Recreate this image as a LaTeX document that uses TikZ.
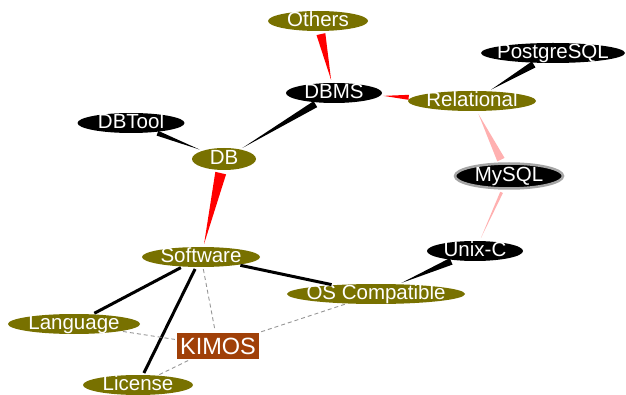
\documentclass[tikz,border=0pt]{standalone}
\usepackage{fontspec}
\setmainfont{Liberation Sans}
\usetikzlibrary{shapes.geometric,calc}
\definecolor{olivefill}{RGB}{120,113,0}
\definecolor{kimosfill}{RGB}{160,64,8}
\definecolor{pinkline}{RGB}{255,176,176}
\definecolor{dashgray}{RGB}{150,150,150}
\definecolor{ringgray}{RGB}{165,165,165}
\newcommand{\taper}[4]{%
\path (#2) -- (#3) coordinate[pos=0] (tw) coordinate[pos=1] (tt);
\coordinate (ta) at ($(tw)!3pt!(tt)$);
\coordinate (tb) at ($(tt)!3pt!(tw)$);
\fill [#1] ($(ta)!#4!90:(tb)$) -- ($(ta)!#4!-90:(tb)$) -- (tb) -- cycle;}

\begin{document}
\begin{tikzpicture}[x=10pt,y=10pt]
\tikzstyle{every node}+=[inner sep=0pt, text=white, font=\fontsize{20.5}{22}\selectfont]
\tikzstyle{bubble}=[ellipse, inner xsep=-20pt, inner ysep=-6pt, text height=15pt, text depth=4pt, minimum height=20pt]
\tikzstyle{olivenode}=[bubble, fill=olivefill]
\tikzstyle{blacknode}=[bubble, fill=black]
\tikzstyle{kimosnode}=[rectangle, fill=kimosfill, minimum width=82pt, minimum height=26pt, font=\fontsize{23.5}{25}\selectfont, text height=17pt, text depth=0pt]
\tikzstyle{solidlink}=[black, line width=3pt, shorten <=2pt, shorten >=2pt]
\tikzstyle{dashlink}=[dashgray, line width=0.9pt, dash pattern=on 4pt off 3pt, shorten <=2pt, shorten >=2pt]
\useasboundingbox (0,0) rectangle (62.6,-39.5);
\node [olivenode, minimum width=100pt] (others) at (31.8,-2.1) {Others};
\node [blacknode, minimum width=96pt] (dbms) at (33.4,-9.3) {DBMS};
\node [olivenode, minimum width=128pt] (relational) at (47.2,-10.1) {Relational};
\node [blacknode, minimum width=144pt] (postgresql) at (55.3,-5.3) {PostgreSQL};
\node [blacknode, draw=ringgray, line width=2.5pt, minimum width=108pt, minimum height=25pt] (mysql) at (50.9,-17.6) {MySQL};
\node [blacknode, minimum width=96pt] (unixc) at (47.5,-25.1) {Unix-C};
\node [olivenode, minimum width=178pt] (oscompat) at (37.6,-29.4) {OS Compatible};
\node [olivenode, minimum width=118pt] (software) at (20.1,-25.7) {Software};
\node [olivenode, minimum width=132pt] (language) at (7.4,-32.4) {Language};
\node [olivenode, minimum width=110pt] (license) at (13.8,-38.5) {License};
\node [kimosnode] (kimos) at (21.8,-34.6) {KIMOS};
\node [blacknode, minimum width=107pt] (dbtool) at (13.1,-12.3) {DBTool};
\node [olivenode, minimum width=64pt, minimum height=22pt] (db) at (22.4,-15.9) {DB};
\taper{red}{others}{dbms}{4.5pt}
\taper{red}{relational}{dbms}{2.5pt}
\taper{black}{dbms}{db}{3.5pt}
\taper{black}{dbtool}{db}{2.5pt}
\taper{red}{db}{software}{5.5pt}
\taper{black}{postgresql}{relational}{3.5pt}
\taper{pinkline}{mysql}{relational}{4pt}
\taper{pinkline}{mysql}{unixc}{1.5pt}
\taper{black}{unixc}{oscompat}{3.5pt}
\draw [solidlink] (software) -- (oscompat);
\draw [solidlink] (software) -- (language);
\draw [solidlink] (software) -- (license);
\draw [dashlink] (software) -- (kimos);
\draw [dashlink] (language) -- (kimos);
\draw [dashlink] (license) -- (kimos);
\draw [dashlink] (oscompat) -- (kimos);
\end{tikzpicture}
\end{document}
